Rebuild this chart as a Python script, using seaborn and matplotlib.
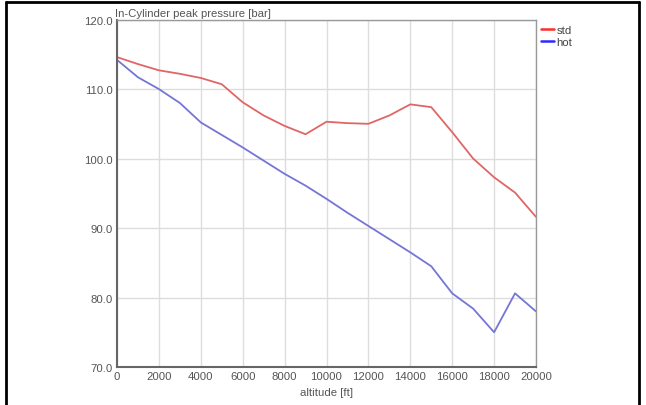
import matplotlib
matplotlib.use("Agg")
import matplotlib.pyplot as plt
from matplotlib.lines import Line2D
import seaborn as sns
import pandas as pd

altitude_ft = [0, 1000, 2000, 3000, 4000, 5000, 6000, 7000, 8000, 9000, 10000,
               11000, 12000, 13000, 14000, 15000, 16000, 17000, 18000, 19000, 20000]
std_bar = [114.6, 113.6, 112.7, 112.2, 111.6, 110.7, 108.1, 106.2, 104.7, 103.5, 105.3,
           105.1, 105.0, 106.2, 107.8, 107.4, 103.8, 100.0, 97.3, 95.1, 91.6]
hot_bar = [114.2, 111.7, 110.0, 108.0, 105.2, 103.4, 101.6, 99.7, 97.8, 96.1, 94.2,
           92.2, 90.3, 88.4, 86.5, 84.5, 80.6, 78.4, 75.0, 80.6, 78.0]
series_names = ["std", "hot"]
x_ticks = list(range(0, 20001, 2000))
y_ticks = [70, 80, 90, 100, 110, 120]

df = pd.concat([
    pd.DataFrame({"altitude": altitude_ft, "pressure": std_bar, "case": series_names[0]}),
    pd.DataFrame({"altitude": altitude_ft, "pressure": hot_bar, "case": series_names[1]}),
])

sns.set_theme(style="white")
plt.rcParams["font.family"] = ["Liberation Sans", "DejaVu Sans"]

W, H = 646, 406
FS = 8.2
fig = plt.figure(figsize=(W / 100, H / 100), dpi=100)
ax = fig.add_axes([117 / W, 1 - 368 / H, (536 - 117) / W, (368 - 20.6) / H])

palette = {"std": "#e06666", "hot": "#7575d6"}
sns.lineplot(data=df, x="altitude", y="pressure", hue="case", palette=palette,
             linewidth=1.3, ax=ax, legend=False)

ax.set_xlim(0, 20000)
ax.set_ylim(70, 120)
ax.set_xticks(x_ticks)
ax.set_xticklabels([str(t) for t in x_ticks])
ax.set_yticks(y_ticks)
ax.set_yticklabels([f"{t:.1f}" for t in y_ticks])
ax.grid(True, color="#dddddd", linewidth=1.0)
ax.tick_params(axis="both", labelsize=FS, colors="#555555", length=0, pad=3)
ax.set_xlabel("altitude [ft]", fontsize=FS, color="#555555", labelpad=4)
ax.set_ylabel("")

for side in ["left", "bottom"]:
    ax.spines[side].set_color("#666666")
    ax.spines[side].set_linewidth(1.5)
for side in ["top", "right"]:
    ax.spines[side].set_color("#999999")
    ax.spines[side].set_linewidth(1.0)

ax.text(-0.004, 1.004, "In-Cylinder peak pressure [bar]", transform=ax.transAxes,
        fontsize=FS, color="#555555", ha="left", va="bottom")

handles = [Line2D([], [], color="#ff2a2a", linewidth=1.8),
           Line2D([], [], color="#2a2aff", linewidth=1.8)]
ax.legend(handles, series_names, loc="upper left", bbox_to_anchor=(1.0, 1.0),
          frameon=False, fontsize=FS, handlelength=1.1, handletextpad=0.25,
          labelspacing=0.2, borderaxespad=0.15, borderpad=0.3, labelcolor="#444444")

# surrounding cell border
def border(x0, y0, x1, y1, lw=2.0):
    fig.add_artist(Line2D([x0 / W, x1 / W], [1 - y0 / H, 1 - y1 / H],
                          color="black", linewidth=lw, transform=fig.transFigure))

border(6, 3, 639, 3)
border(6, 3, 6, H)
border(639, 3, 639, H)

fig.savefig("out.png", dpi=100)
